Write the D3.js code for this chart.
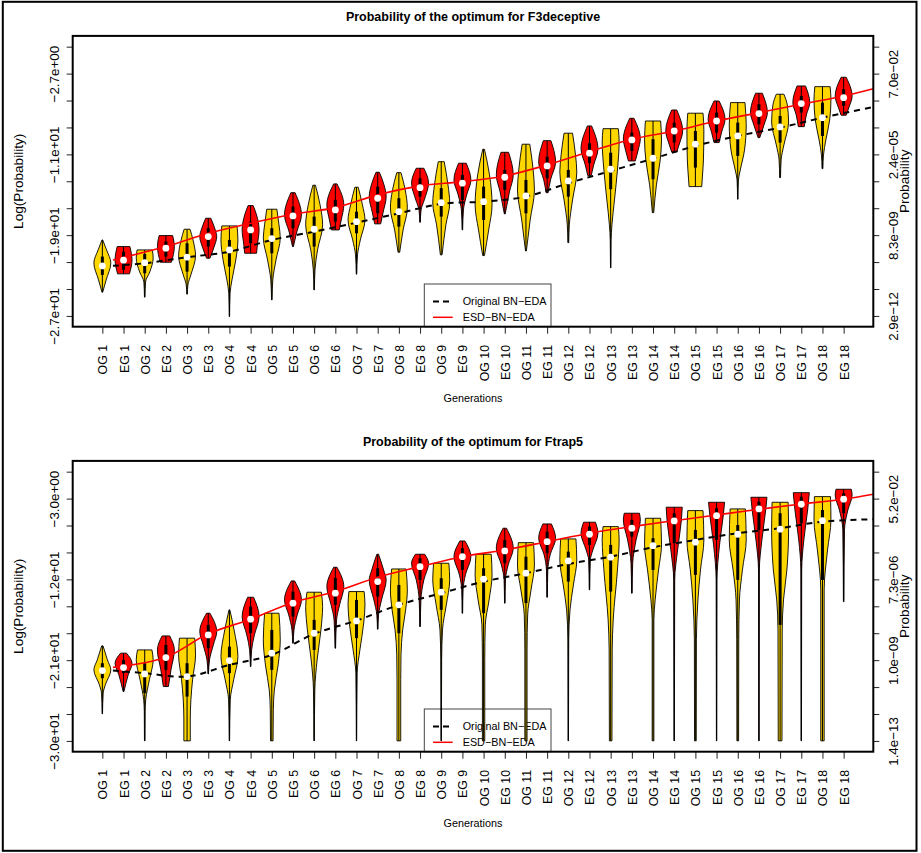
<!DOCTYPE html>
<html><head><meta charset="utf-8">
<script src="https://cdn.jsdelivr.net/npm/d3@7"></script>
<style>
body{margin:0;background:#fff;}
svg{display:block;}
text{font-family:"Liberation Sans",Arial,Helvetica,sans-serif;fill:#000;}
</style>
</head><body><script>
// ---------------- DATA ----------------
const generations = ["OG 1","EG 1","OG 2","EG 2","OG 3","EG 3","OG 4","EG 4","OG 5","EG 5","OG 6","EG 6",
  "OG 7","EG 7","OG 8","EG 8","OG 9","EG 9","OG 10","EG 10","OG 11","EG 11","OG 12","EG 12",
  "OG 13","EG 13","OG 14","EG 14","OG 15","EG 15","OG 16","EG 16","OG 17","EG 17","OG 18","EG 18"];

// F3deceptive (log probability)
const f3TickValues = [0,-2.667,-5.333,-8,-10.667,-13.333,-16,-18.667,-21.333,-24,-26.667];
const f3LeftLabels = ["","\u22122.7e+00","","","\u22121.1e+01","","","\u22121.9e+01","","","\u22122.7e+01"];
const f3RightLabels = ["","7.0e\u221202","","","2.4e\u221205","","","8.3e\u221209","","","2.9e\u221212"];
const f3Median = [-21.71,-21.15,-21.39,-19.96,-20.85,-18.81,-20.13,-18.15,-19.01,-16.76,-18.08,-16.17,
  -17.33,-15.01,-16.34,-13.96,-15.45,-13.52,-15.35,-12.93,-14.78,-11.81,-13.30,-10.55,
  -12.14,-9.24,-11.05,-8.35,-9.66,-7.36,-8.84,-6.63,-7.95,-5.64,-7.03,-5.05];
const f3Q3 = [-20.79,-20.30,-20.53,-19.31,-19.47,-17.98,-19.14,-17.33,-17.98,-15.84,-16.83,-15.18,
  -16.34,-13.86,-15.01,-13.03,-14.02,-12.70,-13.86,-12.21,-13.20,-10.89,-12.21,-9.56,
  -10.50,-8.51,-9.17,-7.52,-8.35,-6.53,-7.52,-5.70,-6.86,-4.88,-5.54,-4.22];
const f3Q1 = [-22.60,-22.11,-22.44,-20.79,-22.28,-19.80,-21.78,-19.47,-20.46,-17.98,-19.80,-17.33,
  -18.48,-16.50,-17.82,-14.85,-16.83,-15.18,-17.16,-14.19,-16.50,-13.03,-14.85,-11.54,
  -14.12,-10.33,-13.13,-9.50,-11.98,-8.51,-10.82,-7.68,-9.50,-6.53,-8.84,-5.87];
// violin profiles: [value, relative half-width]
const f3Shapes = [
  [[-19.14,.04],[-20.13,.5],[-21.42,1],[-23.1,.45],[-24.32,.04]],
  [[-19.8,.75],[-21.12,1],[-22.5,.7]],
  [[-20.13,.9],[-20.92,1],[-22.31,.6],[-23.3,.1],[-24.81,.03]],
  [[-18.71,.8],[-19.8,1],[-21.35,.65]],
  [[-18.08,.35],[-19.14,.7],[-20.72,1],[-22.6,.45],[-23.6,.1],[-24.51,.03]],
  [[-16.99,.3],[-17.95,.75],[-18.81,1],[-19.93,.65],[-20.95,.2]],
  [[-17.75,.9],[-19.14,1],[-21.12,.75],[-23.1,.3],[-24.39,.08],[-26.73,.02]],
  [[-15.74,.3],[-16.66,.7],[-18.15,1],[-19.63,.8],[-20.46,.7]],
  [[-16.1,.6],[-17.65,.85],[-18.94,1],[-21.12,.5],[-23.1,.12],[-25.08,.03]],
  [[-14.46,.25],[-16.66,1],[-18.35,.45],[-19.8,.05]],
  [[-13.72,.15],[-15.67,.7],[-17.65,1],[-20.13,.4],[-22.11,.1],[-24.09,.03]],
  [[-13.59,.2],[-15.67,1],[-17.16,.7],[-18.15,.45]],
  [[-13.92,.2],[-15.67,.7],[-17.16,1],[-19.14,.45],[-20.62,.12],[-22.53,.03]],
  [[-12.44,.2],[-13.69,.75],[-14.88,1],[-16.37,.65],[-17.55,.35]],
  [[-12.48,.25],[-14.19,.75],[-15.97,1],[-18.15,.5],[-20.36,.1]],
  [[-12.04,.45],[-13.5,1],[-15.18,.5],[-16.17,.12],[-17.39,.03]],
  [[-11.39,.35],[-13.69,.8],[-15.48,1],[-17.65,.55],[-20.62,.1]],
  [[-11.54,.45],[-13.2,1],[-14.68,.5],[-16.17,.12],[-18.15,.03]],
  [[-10.16,.1],[-12.7,.7],[-15.67,1],[-18.15,.6],[-20.69,.1]],
  [[-10.46,.45],[-12.7,1],[-14.39,.55],[-16.56,.05]],
  [[-9.66,.45],[-12.21,.85],[-14.19,1],[-17.16,.5],[-20.23,.05]],
  [[-9.31,.45],[-11.42,1],[-13.2,.4],[-14.46,.12]],
  [[-8.57,.5],[-10.72,.85],[-12.41,1],[-15.18,.5],[-17.65,.12],[-19.41,.05]],
  [[-7.85,.25],[-10.13,1],[-11.71,.5],[-12.77,.2]],
  [[-8.12,.9],[-9.44,1],[-12.21,.8],[-15.18,.45],[-17.65,.15],[-19.14,.05],[-21.91,.02]],
  [[-7.09,.25],[-9.14,1],[-10.23,.75],[-11.32,.4]],
  [[-7.36,.9],[-9.24,1],[-11.22,.85],[-13.69,.4],[-16.44,.08]],
  [[-6.27,.3],[-8.35,1],[-9.53,.65],[-10.43,.3]],
  [[-6.59,.9],[-8.25,1],[-11.22,.95],[-13.2,.8],[-13.86,.75]],
  [[-5.38,.3],[-7.19,1],[-8.45,.6],[-9.5,.3]],
  [[-5.54,.85],[-7.75,1],[-10.23,.8],[-12.21,.3],[-13.2,.08],[-15.11,.02]],
  [[-4.61,.4],[-6.53,1],[-7.75,.6],[-9.01,.1]],
  [[-4.71,.45],[-5.77,.85],[-7.46,1],[-9.73,.45],[-11.22,.12],[-12.97,.05]],
  [[-3.89,.5],[-5.54,1],[-6.76,.6],[-7.92,.35]],
  [[-3.96,.9],[-5.28,1],[-7.26,.85],[-9.24,.4],[-10.72,.12],[-12.08,.05]],
  [[-3.03,.3],[-4.88,1],[-6.07,.6],[-6.79,.3]]
];
const f3RedLine = [[1.5,-21.12],[4,-19.8],[6,-18.48],[8,-17.49],[10,-16.59],[12,-15.94],[14,-14.68],[16,-13.79],[18,-13.37],[20,-12.8],[22,-11.71],[24,-10.4],[26,-9.17],[28,-8.35],[30,-7.36],[32,-6.53],[34,-5.7],[36,-4.88],[37.4,-4.16]];
const f3BlackLine = [[1.5,-21.7],[3,-21.45],[5,-20.85],[7,-20.3],[9,-19.14],[11,-18.32],[13,-17.43],[15,-16.5],[17,-15.57],[19,-15.35],[21,-14.85],[23,-13.52],[25,-12.31],[27,-11.09],[29,-9.83],[31,-8.84],[33,-8.02],[35,-7.03],[37.4,-5.97]];

// Ftrap5 (log probability)
const trapTickValues = [0,-3,-6,-9,-12,-15,-18,-21,-24,-27,-30];
const trapLeftLabels = ["","\u22123.0e+00","","","\u22121.2e+01","","","\u22122.1e+01","","","\u22123.0e+01"];
const trapRightLabels = ["","5.2e\u221202","","","7.3e\u221206","","","1.0e\u221209","","","1.4e\u221213"];
const trapMedian = [-22.16,-21.83,-22.53,-20.71,-22.83,-18.19,-21.05,-16.44,-20.22,-14.65,-18.00,-13.54,
  -16.63,-12.25,-14.84,-10.58,-13.43,-9.47,-11.98,-8.83,-11.31,-7.80,-9.94,-6.97,
  -9.53,-6.30,-8.24,-5.49,-7.86,-4.90,-6.97,-4.15,-6.41,-3.63,-5.46,-3.07];
const trapQ3 = [-21.34,-20.97,-21.34,-19.30,-21.34,-17.07,-19.49,-15.03,-17.63,-13.36,-16.51,-11.84,
  -14.29,-10.76,-12.62,-9.64,-11.87,-8.53,-10.76,-7.61,-9.47,-6.68,-8.91,-6.12,
  -8.16,-5.38,-7.42,-4.63,-6.49,-4.08,-5.94,-3.34,-4.63,-2.78,-4.27,-2.41];
const trapQ1 = [-23.01,-22.45,-24.68,-22.08,-25.06,-19.67,-22.45,-17.99,-22.08,-16.15,-19.86,-14.84,
  -18.55,-13.92,-18.00,-12.06,-15.40,-10.95,-15.77,-10.20,-14.65,-9.09,-12.25,-8.16,
  -13.36,-7.24,-10.95,-7.97,-11.50,-7.61,-12.06,-6.49,-17.07,-5.75,-12.06,-4.63];
const trapShapes = [
  [[-19.41,.08],[-20.97,.6],[-22.08,1],[-23.75,.35],[-24.68,.1],[-26.98,.02]],
  [[-20.22,.35],[-21.34,1],[-22.64,.55],[-24.5,.05]],
  [[-19.86,.85],[-20.97,1],[-23.19,.55],[-25.42,.12],[-26.76,.05],[-29.99,.03]],
  [[-18.3,.45],[-19.86,1],[-22.08,.6],[-23.94,.3]],
  [[-18.55,.9],[-20.41,1],[-23.19,.65],[-25.42,.45],[-27.66,.38],[-29.99,.38]],
  [[-15.77,.2],[-17.82,1],[-19.3,.6],[-20.97,.15],[-22.53,.03]],
  [[-15.4,.05],[-17.63,.55],[-20.6,1],[-23.19,.5],[-25.42,.1],[-29.99,.02]],
  [[-13.99,.35],[-16.15,1],[-18.19,.45],[-19.86,.12],[-21.71,.03]],
  [[-15.77,.85],[-18.74,1],[-21.53,.75],[-24.31,.3],[-26.53,.18],[-29.99,.15]],
  [[-12.17,.2],[-14.29,1],[-15.96,.5],[-17.63,.12],[-19.11,.03]],
  [[-13.43,.85],[-15.03,1],[-17.63,.8],[-20.97,.35],[-24.31,.08],[-29.99,.02]],
  [[-10.65,.2],[-12.81,1],[-14.84,.5],[-16.51,.15],[-19.67,.03]],
  [[-13.36,.9],[-14.84,1],[-16.85,.85],[-19.86,.4],[-22.42,.08],[-29.99,.02]],
  [[-9.2,.1],[-10.95,.7],[-12.06,1],[-14.29,.45],[-15.96,.1],[-17.55,.03]],
  [[-10.84,.85],[-13.17,1],[-15.4,.8],[-17.63,.45],[-20.41,.25],[-23.19,.22],[-29.99,.22]],
  [[-9.2,.55],[-10.2,1],[-12.06,.45],[-14.29,.1],[-17.26,.03]],
  [[-10.2,.9],[-12.06,1],[-14.84,.6],[-17.63,.15],[-20.97,.05],[-29.99,.02]],
  [[-7.72,.3],[-9.47,1],[-11.5,.35],[-13.17,.08],[-15.77,.03]],
  [[-9.2,.9],[-11.5,1],[-14.29,.65],[-17.07,.2],[-20.97,.14],[-29.99,.14]],
  [[-6.3,.2],[-8.53,1],[-10.39,.4],[-12.06,.08],[-14.65,.03]],
  [[-7.91,.9],[-10.39,1],[-13.17,.6],[-15.96,.2],[-19.86,.13],[-29.99,.13]],
  [[-5.82,.5],[-7.42,1],[-9.28,.35],[-10.95,.08],[-13.99,.03]],
  [[-7.49,.9],[-9.83,1],[-12.62,.6],[-15.4,.2],[-18.74,.05],[-29.99,.02]],
  [[-5.63,.7],[-6.86,1],[-8.72,.4],[-9.83,.1],[-13.17,.03]],
  [[-6.12,.9],[-7.61,1],[-10.95,.8],[-16.51,.3],[-19.86,.18],[-29.99,.15]],
  [[-4.63,.9],[-5.38,1],[-7.61,.5],[-10.2,.1],[-13.54,.03]],
  [[-5.19,.9],[-8.16,1],[-10.95,.65],[-14.29,.25],[-16.51,.1],[-29.99,.1]],
  [[-3.96,.95],[-5.38,.85],[-8.72,.4],[-12.06,.06],[-29.99,.02]],
  [[-4.34,.9],[-7.61,1],[-10.95,.6],[-14.29,.3],[-18.74,.12],[-29.99,.1]],
  [[-3.41,.95],[-4.82,.8],[-8.16,.35],[-12.06,.05],[-29.99,.02]],
  [[-4.15,.9],[-7.61,1],[-10.95,.55],[-14.29,.2],[-18.74,.12],[-29.99,.1]],
  [[-2.85,.95],[-4.27,.8],[-7.61,.35],[-10.95,.05],[-29.99,.02]],
  [[-3.41,.95],[-6.49,1],[-10.95,.8],[-14.29,.4],[-17.63,.25],[-29.99,.22]],
  [[-2.34,.95],[-4.27,.75],[-7.61,.3],[-10.95,.05],[-29.99,.02]],
  [[-2.78,.95],[-5.38,1],[-8.72,.6],[-13.17,.2],[-19.86,.2],[-29.99,.2]],
  [[-1.96,.9],[-2.59,1],[-4.27,.5],[-6.49,.1],[-14.48,.03]]
];
const trapRedLine = [[1.5,-21.8],[4,-20.67],[6,-18.07],[8,-16.44],[10,-14.57],[12,-13.36],[14,-11.76],[16,-10.58],[18,-9.47],[20,-8.72],[22,-7.8],[24,-6.86],[26,-6.12],[28,-5.46],[30,-4.82],[32,-4.19],[34,-3.6],[36,-3.07],[37.4,-2.52]];
const trapBlackLine = [[1.5,-22.16],[3,-22.45],[5,-22.83],[7,-21.53],[9,-20.41],[11,-18.07],[13,-16.59],[15,-14.84],[17,-13.54],[19,-12.25],[21,-11.31],[23,-10.28],[25,-9.47],[27,-8.42],[29,-7.61],[31,-6.86],[33,-6.3],[35,-5.57],[37.4,-5.3]];

const legendLabels = ["Original BN\u2212EDA","ESD\u2212BN\u2212EDA"];
const OG_COLOR = "#FFD700", EG_COLOR = "#FF0000";

// ---------------- DRAW ----------------
const svg = d3.select("body").append("svg").attr("width",921).attr("height",853);
svg.append("rect").attr("x",2.8).attr("y",1.8).attr("width",913.7).attr("height",849)
  .attr("fill","none").attr("stroke","#000").attr("stroke-width",2);

function panel(o){
  const L=72.7, R=873.3, T=o.top, B=o.bottom;
  const x = d3.scaleLinear().domain([1-1.4, 36+1.4]).range([L,R]);
  const pad = (o.ymax-o.ymin)*0.04;
  const y = d3.scaleLinear().domain([o.ymin-pad, o.ymax+pad]).range([B,T]);
  const g = svg.append("g");
  const cid = "clip"+o.id;
  g.append("clipPath").attr("id",cid).append("rect").attr("x",L).attr("y",T).attr("width",R-L).attr("height",B-T);

  g.append("text").attr("x",(L+R)/2).attr("y",T-14.5).attr("text-anchor","middle")
    .attr("font-weight","bold").attr("font-size",12.5).text(o.title);

  // left axis
  const al = g.append("g").attr("transform",`translate(${L},0)`)
    .call(d3.axisLeft(y).tickValues(o.tickValues).tickFormat((d,i)=>o.leftLabels[i]).tickSize(6).tickSizeOuter(0));
  al.select(".domain").remove();
  al.selectAll("line").attr("stroke","#222");
  al.selectAll("text").attr("x",null).attr("dy",null).attr("text-anchor","middle")
    .attr("transform","translate(-13.2,0) rotate(-90)").attr("font-size",13.4).attr("fill","#000");
  // right axis
  const ar = g.append("g").attr("transform",`translate(${R},0)`)
    .call(d3.axisRight(y).tickValues(o.tickValues).tickFormat((d,i)=>o.rightLabels[i]).tickSize(6).tickSizeOuter(0));
  ar.select(".domain").remove();
  ar.selectAll("line").attr("stroke","#222");
  ar.selectAll("text").attr("x",null).attr("dy",null).attr("text-anchor","middle")
    .attr("transform","translate(24.7,0) rotate(-90)").attr("font-size",13.4).attr("fill","#000");
  // bottom axis
  const ab = g.append("g").attr("transform",`translate(0,${B})`)
    .call(d3.axisBottom(x).tickValues(d3.range(1,37)).tickFormat((d,i)=>generations[i]).tickSize(7).tickSizeOuter(0));
  ab.select(".domain").remove();
  ab.selectAll("line").attr("stroke","#222");
  ab.selectAll("text").attr("y",null).attr("dy",null).attr("text-anchor","end")
    .attr("transform","translate(4.5,18.3) rotate(-90)").attr("font-size",12.3).attr("fill","#000");

  // axis titles
  g.append("text").attr("transform",`translate(23,${(T+B)/2}) rotate(-90)`).attr("text-anchor","middle")
    .attr("font-size",13.6).text("Log(Probability)");
  g.append("text").attr("transform",`translate(908.5,${(T+B)/2}) rotate(-90)`).attr("text-anchor","middle")
    .attr("font-size",13.6).text("Probability");
  g.append("text").attr("x",(L+R)/2).attr("y",B+75.3).attr("text-anchor","middle")
    .attr("font-size",10.8).text("Generations");

  // legend (drawn below violins)
  const lg = g.append("g");
  lg.append("rect").attr("x",424.3).attr("y",B-42.7).attr("width",126.7).attr("height",42.7)
    .attr("fill","#fff").attr("stroke","#444").attr("stroke-width",1);
  const rows=[B-25.3,B-9.4];
  lg.append("line").attr("x1",433).attr("x2",452.7).attr("y1",rows[0]).attr("y2",rows[0])
    .attr("stroke","#000").attr("stroke-width",2).attr("stroke-dasharray","6,4");
  lg.append("line").attr("x1",433).attr("x2",452.7).attr("y1",rows[1]).attr("y2",rows[1])
    .attr("stroke",EG_COLOR).attr("stroke-width",1.5);
  legendLabels.forEach((t,i)=>lg.append("text").attr("x",462.7).attr("y",rows[i]).attr("dy","0.36em")
    .attr("font-size",10.8).text(t));

  // violins
  const hw = x(0.4)-x(0);
  const vg = g.append("g").attr("clip-path",`url(#${cid})`);
  o.shapes.forEach((s,i)=>{
    const cx = x(i+1);
    const area = d3.area().y(d=>y(d[0])).x0(d=>cx-d[1]*hw).x1(d=>cx+d[1]*hw).curve(d3.curveMonotoneY);
    vg.append("path").attr("d",area(s)).attr("fill", i%2===0?OG_COLOR:EG_COLOR)
      .attr("stroke","#000").attr("stroke-width",0.9);
    vg.append("line").attr("x1",cx).attr("x2",cx).attr("y1",y(s[0][0])).attr("y2",y(s[s.length-1][0]))
      .attr("stroke","#000").attr("stroke-width",1);
    vg.append("rect").attr("x",cx-1.5).attr("width",3).attr("y",y(o.q3[i])).attr("height",y(o.q1[i])-y(o.q3[i]))
      .attr("fill","#000");
  });

  // trend lines
  const line = d3.line().x(d=>x(d[0])).y(d=>y(d[1])).curve(d3.curveCatmullRom.alpha(0.5));
  const lgp = g.append("g").attr("clip-path",`url(#${cid})`);
  lgp.append("path").attr("d",line(o.black)).attr("fill","none").attr("stroke","#000")
    .attr("stroke-width",2).attr("stroke-dasharray","6,5");
  lgp.append("path").attr("d",line(o.red)).attr("fill","none").attr("stroke",EG_COLOR).attr("stroke-width",1.6);

  // medians
  g.append("g").selectAll("circle").data(o.median).join("circle")
    .attr("cx",(d,i)=>x(i+1)).attr("cy",d=>y(d)).attr("r",3.4).attr("fill","#fff");

  // plot box
  g.append("rect").attr("x",L).attr("y",T).attr("width",R-L).attr("height",B-T)
    .attr("fill","none").attr("stroke","#000").attr("stroke-width",2);
}

panel({id:"f3", top:35.9, bottom:326.7, ymin:-26.667, ymax:0, title:"Probability of the optimum for F3deceptive",
  tickValues:f3TickValues, leftLabels:f3LeftLabels, rightLabels:f3RightLabels,
  shapes:f3Shapes, median:f3Median, q1:f3Q1, q3:f3Q3, red:f3RedLine, black:f3BlackLine});
panel({id:"trap", top:460.9, bottom:751.7, ymin:-30, ymax:0, title:"Probability of the optimum for Ftrap5",
  tickValues:trapTickValues, leftLabels:trapLeftLabels, rightLabels:trapRightLabels,
  shapes:trapShapes, median:trapMedian, q1:trapQ1, q3:trapQ3, red:trapRedLine, black:trapBlackLine});
</script></body></html>
